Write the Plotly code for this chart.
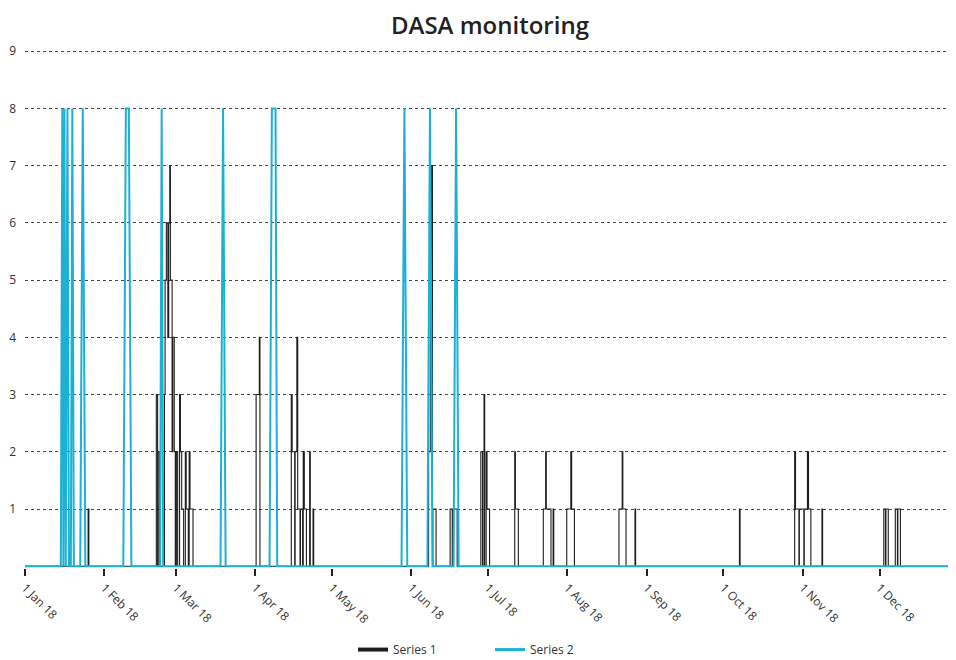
import plotly.graph_objects as go

# ---- data ----
series1_time = [
    "2018-01-01 00:00", "2018-01-25 16:00", "2018-01-25 23:00",
    "2018-02-21 08:00", "2018-02-21 20:00", "2018-02-22 02:00", "2018-02-22 16:00",
    "2018-02-24 12:00", "2018-02-24 18:00", "2018-02-25 06:00", "2018-02-25 20:00",
    "2018-02-26 04:00", "2018-02-26 14:00", "2018-02-26 20:00", "2018-02-27 12:00",
    "2018-02-27 18:00", "2018-02-28 08:00", "2018-02-28 18:00", "2018-03-01 04:00",
    "2018-03-01 16:00", "2018-03-02 10:00", "2018-03-02 18:00", "2018-03-03 06:00",
    "2018-03-04 00:00", "2018-03-04 16:00", "2018-03-05 00:00", "2018-03-05 20:00",
    "2018-03-06 04:00", "2018-03-06 12:00", "2018-03-07 16:00",
    "2018-04-01 08:00", "2018-04-02 14:00", "2018-04-02 20:00",
    "2018-04-15 02:00", "2018-04-15 10:00", "2018-04-16 10:00", "2018-04-16 14:00",
    "2018-04-17 06:00", "2018-04-17 14:00", "2018-04-18 12:00", "2018-04-18 16:00",
    "2018-04-19 12:00", "2018-04-19 18:00", "2018-04-20 04:00", "2018-04-21 00:00",
    "2018-04-22 06:00", "2018-04-22 12:00", "2018-04-23 14:00", "2018-04-23 20:00",
    "2018-06-07 18:00", "2018-06-08 10:00", "2018-06-08 22:00", "2018-06-09 06:00",
    "2018-06-09 10:00", "2018-06-10 16:00",
    "2018-06-16 04:00", "2018-06-17 00:00", "2018-06-17 02:00", "2018-06-18 22:00",
    "2018-06-28 04:00", "2018-06-28 20:00", "2018-06-29 10:00", "2018-06-29 16:00",
    "2018-06-30 06:00", "2018-06-30 14:00", "2018-07-01 14:00",
    "2018-07-11 10:00", "2018-07-11 16:00", "2018-07-12 20:00",
    "2018-07-22 14:00", "2018-07-23 12:00", "2018-07-23 18:00", "2018-07-25 14:00",
    "2018-07-26 10:00", "2018-07-26 16:00",
    "2018-07-31 18:00", "2018-08-02 08:00", "2018-08-02 16:00", "2018-08-03 18:00",
    "2018-08-21 04:00", "2018-08-22 10:00", "2018-08-22 16:00", "2018-08-23 22:00",
    "2018-08-27 10:00", "2018-08-27 16:00",
    "2018-10-07 06:00", "2018-10-07 12:00",
    "2018-10-28 20:00", "2018-10-29 04:00", "2018-10-30 12:00", "2018-10-30 16:00",
    "2018-11-01 10:00", "2018-11-01 14:00", "2018-11-02 20:00", "2018-11-03 06:00",
    "2018-11-04 04:00", "2018-11-08 12:00", "2018-11-08 18:00",
    "2018-12-02 16:00", "2018-12-03 08:00", "2018-12-03 12:00", "2018-12-04 10:00",
    "2018-12-07 04:00", "2018-12-08 00:00", "2018-12-08 04:00", "2018-12-09 04:00",
    "2018-12-31 00:00",
]
series1_value = [
    0, 1, 0,
    3, 0, 2, 0,
    3, 5, 6, 4,
    6, 7, 5, 2,
    4, 2, 0, 2,
    0, 3, 2, 1,
    0, 2, 1, 0,
    2, 1, 0,
    3, 4, 0,
    3, 2, 0, 2,
    4, 1, 0, 1,
    0, 2, 1, 0,
    2, 0, 1, 0,
    2, 5, 7, 0,
    1, 0,
    1, 0, 1, 0,
    2, 0, 3, 0,
    2, 1, 0,
    2, 1, 0,
    1, 2, 1, 0,
    1, 0,
    1, 2, 1, 0,
    1, 2, 1, 0,
    1, 0,
    1, 0,
    2, 1, 0, 1,
    0, 1, 2, 1,
    0, 1, 0,
    1, 0, 1, 0,
    1, 0, 1, 0,
    0,
]

series2_time = [
    "2018-01-01 00:00",
    "2018-01-15 00:00", "2018-01-15 14:00", "2018-01-16 00:00", "2018-01-16 10:00",
    "2018-01-16 22:00", "2018-01-17 14:00", "2018-01-18 04:00",
    "2018-01-18 22:00", "2018-01-19 12:00", "2018-01-20 02:00",
    "2018-01-22 14:00", "2018-01-23 14:00", "2018-01-24 14:00",
    "2018-02-08 10:00", "2018-02-09 10:00", "2018-02-10 14:00", "2018-02-11 14:00",
    "2018-02-22 19:00", "2018-02-23 10:00", "2018-02-24 00:00",
    "2018-03-18 10:00", "2018-03-19 10:00", "2018-03-20 10:00",
    "2018-04-06 14:00", "2018-04-07 12:00", "2018-04-08 22:00", "2018-04-09 14:00",
    "2018-05-28 04:00", "2018-05-29 07:00", "2018-05-30 10:00",
    "2018-06-07 07:00", "2018-06-08 07:00", "2018-06-09 07:00",
    "2018-06-17 12:00", "2018-06-18 12:00", "2018-06-19 12:00",
    "2018-12-31 00:00",
]
series2_value = [
    0,
    0, 8, 0, 8,
    0, 8, 0,
    0, 8, 0,
    0, 8, 0,
    0, 8, 8, 0,
    0, 8, 0,
    0, 8, 0,
    0, 8, 8, 0,
    0, 8, 0,
    0, 8, 0,
    0, 8, 0,
    0,
]

month_ticks = ["2018-01-01", "2018-02-01", "2018-03-01", "2018-04-01", "2018-05-01",
               "2018-06-01", "2018-07-01", "2018-08-01", "2018-09-01", "2018-10-01",
               "2018-11-01", "2018-12-01"]
month_labels = ["1 Jan 18", "1 Feb 18", "1 Mar 18", "1 Apr 18", "1 May 18", "1 Jun 18",
                "1 Jul 18", "1 Aug 18", "1 Sep 18", "1 Oct 18", "1 Nov 18", "1 Dec 18"]
y_ticks = [1, 2, 3, 4, 5, 6, 7, 8, 9]

BLACK = "#1e1e1e"
BLUE = "#1cb0d4"

fig = go.Figure()
fig.add_trace(go.Scatter(x=series1_time, y=series1_value, mode="lines", name="Series 1",
                         line=dict(color=BLACK, width=1.1, shape="hv"), showlegend=False))
fig.add_trace(go.Scatter(x=series2_time, y=series2_value, mode="lines", name="Series 2",
                         line=dict(color=BLUE, width=2), showlegend=False))
# legend entries (thicker symbols like the reference)
fig.add_trace(go.Scatter(x=[None], y=[None], mode="lines", name="Series 1",
                         line=dict(color=BLACK, width=4)))
fig.add_trace(go.Scatter(x=[None], y=[None], mode="lines", name="Series 2",
                         line=dict(color=BLUE, width=3)))

# the page places the figure 8px from the top-left corner, so the figure is 8px smaller
fig.update_layout(
    width=948, height=652,
    margin=dict(l=17, r=1, t=42, b=92, autoexpand=False),
    paper_bgcolor="white", plot_bgcolor="white",
    font=dict(family="Open Sans", size=12, color="#333333"),
    title=dict(text="DASA monitoring", x=0.5084, xanchor="center", y=0.973, yanchor="middle",
               yref="container", automargin=False,
               font=dict(family="Open Sans", size=24, color="#222222", weight=600)),
    legend=dict(orientation="h", x=0.5, xanchor="center", y=0.016, yanchor="middle",
                yref="container", font=dict(size=12, color="#333333"),
                entrywidth=92, entrywidthmode="pixels"),
    xaxis=dict(type="date", range=["2018-01-01", "2018-12-30 12:00"], automargin=False,
               tickmode="array", tickvals=month_ticks, ticktext=month_labels,
               tickangle=45, ticks="outside", ticklen=7, tickwidth=2, tickcolor="#222222",
               showgrid=False, zeroline=False, showline=False,
               tickfont=dict(size=12, color="#333333")),
    yaxis=dict(range=[-0.03, 9.02], tickmode="array", tickvals=y_ticks, automargin=False,
               showgrid=True, gridcolor="#444444", griddash="dot", gridwidth=1,
               zeroline=False, showline=False, ticks="", ticklabelstandoff=8,
               tickfont=dict(size=12, color="#333333")),
)

fig.write_html("out.html")
